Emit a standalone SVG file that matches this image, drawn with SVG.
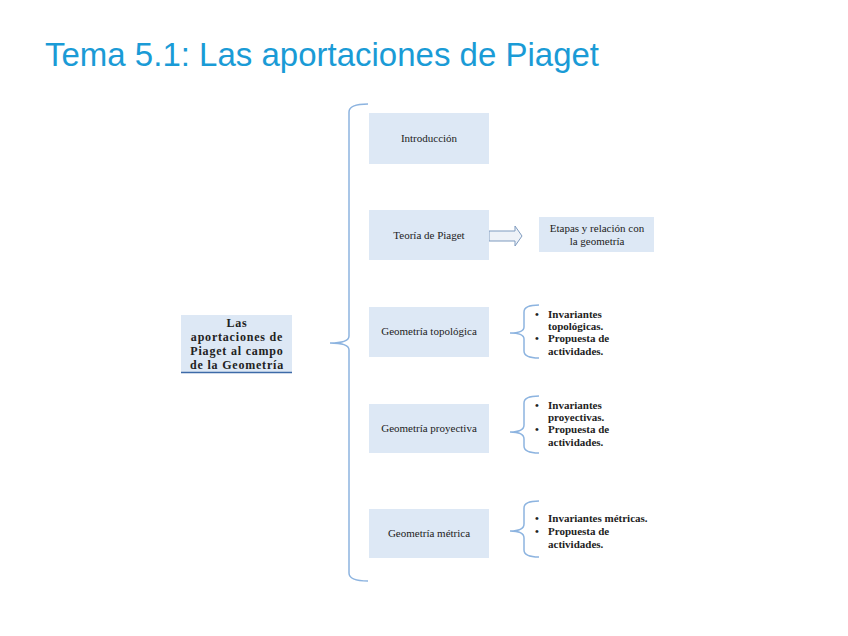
<svg xmlns="http://www.w3.org/2000/svg" width="848" height="636" viewBox="0 0 848 636">
<style>
.box{fill:#dde8f5;}
.t{font-family:"Liberation Serif",serif;font-size:11px;fill:#222;text-anchor:middle;}
.b{font-family:"Liberation Serif",serif;font-size:11px;font-weight:bold;fill:#222;}
.br{fill:none;stroke:#8db4e0;stroke-width:1.5;}
</style>
<rect width="848" height="636" fill="#fff"/>
<text x="45" y="66" font-family="Liberation Sans, Arial, sans-serif" font-size="33" fill="#1a9bd6">Tema 5.1: Las aportaciones de Piaget</text>
<g id="connectors">
<path class="br" d="M368,104 Q349,104 349,112 L349,336 Q349,343 330,343 Q349,343 349,350 L349,573 Q349,581 368,581"/>
<path class="br" d="M539,305 Q524,305 524,312 L524,327 Q524,333 510,333 Q524,333 524,339 L524,351 Q524,358 539,358"/>
<path class="br" d="M539,396 Q524,396 524,403 L524,425 Q524,432 510,432 Q524,432 524,439 L524,446 Q524,453 539,453"/>
<path class="br" d="M539,501 Q524,501 524,508 L524,524 Q524,531 510,531 Q524,531 524,538 L524,550 Q524,557 539,557"/>
<path d="M489,231 L515,231 L515,226 L522,236 L515,246 L515,241 L489,241 Z" fill="#eef2f8" stroke="#7f9bbf" stroke-width="1"/>
</g>
<g id="n-main">
<rect class="box" x="181" y="315" width="111" height="58"/>
<line x1="181" y1="372.5" x2="292" y2="372.5" stroke="#3d6aa8" stroke-width="1.5"/>
<text class="b" text-anchor="middle" style="font-size:12px;letter-spacing:0.8px"><tspan x="237" y="327">Las</tspan><tspan x="237" y="341">aportaciones de</tspan><tspan x="237" y="355">Piaget al campo</tspan><tspan x="237" y="369">de la Geometría</tspan></text>
</g>
<g id="n-intro"><rect class="box" x="369" y="113" width="120" height="51"/><text class="t" x="429" y="142">Introducción</text></g>
<g id="n-teoria"><rect class="box" x="369" y="210" width="120" height="50"/><text class="t" x="429" y="239">Teoría de Piaget</text></g>
<g id="n-etapas"><rect class="box" x="539" y="217" width="115" height="35"/><text class="t"><tspan x="597" y="232">Etapas y relación con</tspan><tspan x="597" y="245">la geometría</tspan></text></g>
<g id="n-topo"><rect class="box" x="369" y="307" width="120" height="50"/><text class="t" x="429" y="335">Geometría topológica</text></g>
<g id="n-proy"><rect class="box" x="369" y="404" width="120" height="49"/><text class="t" x="429" y="432">Geometría proyectiva</text></g>
<g id="n-metr"><rect class="box" x="369" y="509" width="120" height="49"/><text class="t" x="429" y="537">Geometría métrica</text></g>
<g id="n-topo-list" class="b">
<text x="535" y="318">•</text><text x="548" y="318">Invariantes</text><text x="548" y="330">topológicas.</text>
<text x="535" y="342">•</text><text x="548" y="342">Propuesta de</text><text x="548" y="355">actividades.</text>
</g>
<g id="n-proy-list" class="b">
<text x="535" y="409">•</text><text x="548" y="409">Invariantes</text><text x="548" y="421">proyectivas.</text>
<text x="535" y="433">•</text><text x="548" y="433">Propuesta de</text><text x="548" y="446">actividades.</text>
</g>
<g id="n-metr-list" class="b">
<text x="535" y="522">•</text><text x="548" y="522">Invariantes métricas.</text>
<text x="535" y="535">•</text><text x="548" y="535">Propuesta de</text><text x="548" y="548">actividades.</text>
</g>
</svg>
